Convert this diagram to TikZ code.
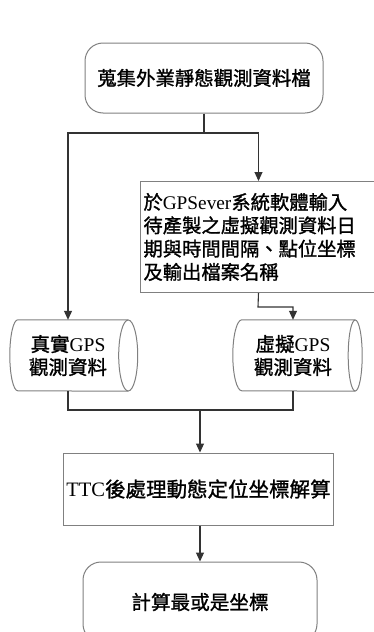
\documentclass[tikz,border=0pt]{standalone}
\usepackage{fontspec}
\setmainfont{Liberation Serif}
\newfontfamily\cj{Noto Sans CJK TC}[FakeBold=1.2]
\usetikzlibrary{arrows.meta}
\begin{document}
\begin{tikzpicture}[x=1pt,y=-1pt,
  shapeline/.style={draw=black!50, line width=1pt},
  conn/.style={draw=black!80, line width=1.1pt},
  arr/.style={conn, -{Triangle[width=8pt,length=9pt]}},
  rbox/.style={shapeline, rounded corners=18pt, align=center},
  sbox/.style={shapeline, align=center},
  cyl/.style={align=center, inner sep=0pt, minimum height=71pt,
    font=\fontsize{19.5}{23}\selectfont}
]
\clip (0,0) rectangle (374,632);
\fill[white] (0,0) rectangle (374,632);

% nodes
\node[rbox, minimum width=238pt, minimum height=70pt,
  font=\cj\fontsize{19.4}{23}\selectfont] (collect) at (204,78)
  {\raisebox{-2pt}{蒐集外業靜態觀測資料檔}};

\node[shapeline, anchor=north west, minimum width=236pt, minimum height=111pt,
  text width=230pt, inner xsep=3pt, align=left,
  font=\fontsize{19.3}{23.3}\selectfont] (input) at (140,181)
  {{\cj 於}GPSever{\cj 系統軟體輸入}\\
   \makebox[212pt][s]{\cj 待\hfil 產\hfil 製\hfil 之\hfil 虛\hfil 擬\hfil 觀\hfil 測\hfil 資\hfil 料\hfil 日}\\
   {\cj 期與時間間隔、點位坐標}\\
   {\cj 及輸出檔案名稱}};

\node[cyl, minimum width=100pt] (real) at (68,355.5)
  {{\cj 真實}GPS\\{\cj 觀測資料}};
\node[cyl, minimum width=102pt] (virt) at (293,355.5)
  {{\cj 虛擬}GPS\\{\cj 觀測資料}};

\node[sbox, minimum width=261pt, minimum height=72pt,
  font=\fontsize{20.5}{24}\selectfont] (ttc) at (198.5,489)
  {\raisebox{-4pt}{TTC{\cj 後處理動態定位坐標解算}}};

\node[rbox, minimum width=234pt, minimum height=80pt,
  font=\cj\fontsize{19.6}{23}\selectfont] (final) at (200,602)
  {計算最或是坐標};

% cylinder outlines
\draw[shapeline] ([xshift=10pt]real.east) ellipse[x radius=9.5, y radius=35.5];
\draw[shapeline] ([xshift=10pt]real.north east) -- (real.north west)
  arc[start angle=270, end angle=90, x radius=8, y radius=35.5]
  -- ([xshift=10pt]real.south east);
\draw[shapeline] ([xshift=11pt]virt.east) ellipse[x radius=7, y radius=35.5];
\draw[shapeline] ([xshift=11pt]virt.north east) -- (virt.north west)
  arc[start angle=270, end angle=90, x radius=9, y radius=35.5]
  -- ([xshift=11pt]virt.south east);

% connectors
\coordinate (j1) at (204,133);
\coordinate (j2) at (200,410);
\coordinate (j3) at (258,307);
\draw[conn] (collect.south) -- (j1);
\draw[arr] (j1) -| (real.north);
\draw[arr] (j1) -| (input.north);
\draw[arr] (input.south) -- (j3) -| (virt.north);
\draw[conn] (real.south) |- (virt.south |- j2) -- (virt.south);
\draw[arr] (j2) -- (j2 |- ttc.north);
\draw[arr] (j2 |- ttc.south) -- (j2 |- final.north);
\end{tikzpicture}
\end{document}
